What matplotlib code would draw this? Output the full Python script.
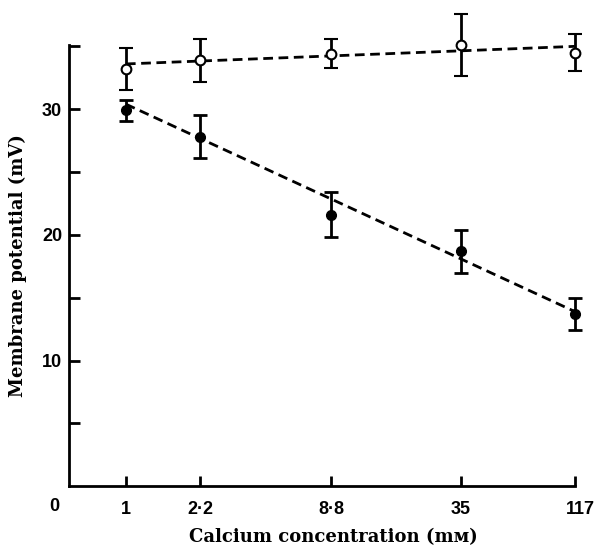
import numpy as np
import matplotlib.pyplot as plt
from matplotlib import ticker
from matplotlib.transforms import ScaledTranslation

# Concentracion de calcio (mM) y potencial de membrana (mV)
calcio = [1, 2.2, 8.8, 35, 117]
etiquetas_x = ['1', '2·2', '8·8', '35', '117']

abiertos = [33.2, 33.9, 34.4, 35.1, 34.5]
err_abiertos = [1.7, 1.7, 1.15, 2.45, 1.5]

llenos = [29.9, 27.8, 21.6, 18.7, 13.7]
err_llenos = [0.85, 1.7, 1.8, 1.7, 1.25]

# rectas de ajuste (extremos)
recta_x = [1, 117]
recta_abiertos = [33.6, 35.0]
recta_llenos = [30.4, 13.9]

plt.rcParams['lines.scale_dashes'] = False

fig = plt.figure(figsize=(5.95, 5.5), dpi=100)
ax = fig.add_axes([0.116, 0.116, 0.85, 0.802])

ax.plot(recta_x, recta_abiertos, color='black', lw=2, linestyle=(0, (7, 4)), zorder=2)
ax.plot(recta_x, recta_llenos, color='black', lw=2, linestyle=(0, (7, 4)), zorder=2)

ax.errorbar(calcio, abiertos, yerr=err_abiertos, fmt='o', color='black',
            mfc='white', mec='black', mew=1.5, ms=7, elinewidth=2,
            capsize=5, capthick=2, zorder=3, clip_on=False)
ax.errorbar(calcio, llenos, yerr=err_llenos, fmt='o', color='black',
            mfc='black', mec='black', ms=7, elinewidth=2,
            capsize=5, capthick=2, zorder=3, clip_on=False)

ax.set_xscale('log')
ax.set_xlim(0.547, 117)
ax.set_ylim(0, 35.1)

ax.xaxis.set_major_locator(ticker.FixedLocator(calcio))
ax.xaxis.set_major_formatter(ticker.FixedFormatter(etiquetas_x))
ax.xaxis.set_minor_locator(ticker.NullLocator())
ax.yaxis.set_major_locator(ticker.FixedLocator([10, 20, 30]))
ax.yaxis.set_minor_locator(ticker.FixedLocator([5, 15, 25, 35]))

for lado in ['top', 'right']:
    ax.spines[lado].set_visible(False)
for lado in ['left', 'bottom']:
    ax.spines[lado].set_linewidth(2)

ax.tick_params(axis='both', which='both', direction='in', width=2)
ax.tick_params(axis='x', length=7, pad=11)
ax.tick_params(axis='y', which='both', length=8, pad=5)

for lab in ax.get_xticklabels() + ax.get_yticklabels():
    lab.set_fontfamily('Liberation Sans')
    lab.set_fontweight('bold')
    lab.set_fontsize(13)

# la etiqueta 117 va un poco a la derecha de su marca
ult = ax.get_xticklabels()[-1]
ult.set_transform(ult.get_transform() + ScaledTranslation(6 / 100, 0, fig.dpi_scale_trans))

ax.annotate('0', xy=(0, 0), xycoords='axes fraction', xytext=(-15, -20),
            textcoords='offset pixels', ha='center', va='center',
            fontfamily='Liberation Sans', fontweight='bold', fontsize=13)

ax.set_xlabel('Calcium concentration (mᴍ)', fontfamily=['DejaVu Serif', 'DejaVu Sans'],
              fontweight='bold', fontsize=13)
ax.xaxis.set_label_coords(0.522, -0.095)
ax.set_ylabel('Membrane potential (mV)', fontfamily=['DejaVu Serif', 'DejaVu Sans'],
              fontweight='bold', fontsize=13, labelpad=11)

plt.savefig('out.png', dpi=100)
